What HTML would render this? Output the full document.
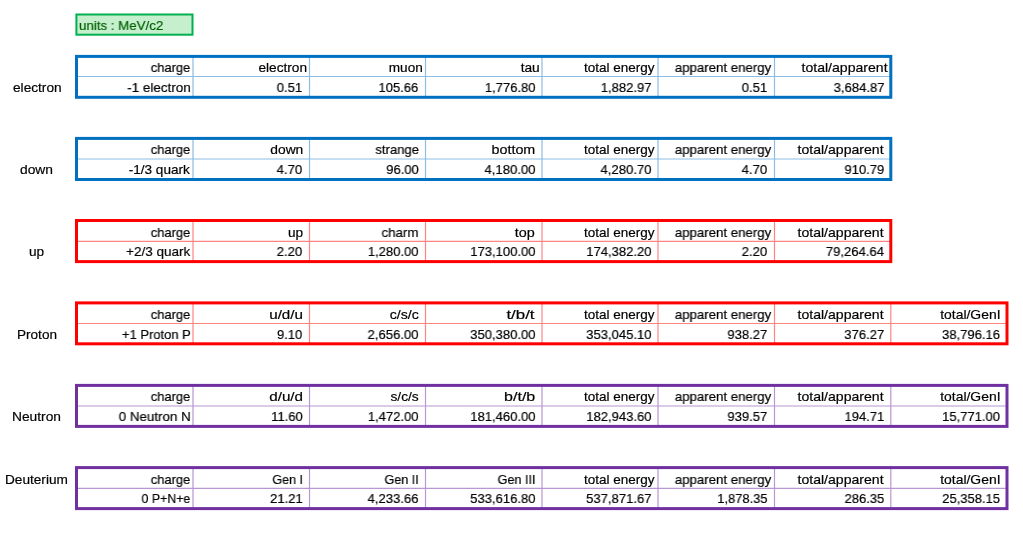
<!DOCTYPE html>
<html><head><meta charset="utf-8"><style>
html,body{margin:0;padding:0;background:#fff;width:1023px;height:534px;overflow:hidden;position:relative}
body{font-family:"Liberation Sans",sans-serif;font-size:13.5px;line-height:16px;color:#000}
svg{position:absolute;left:0;top:0}
.c{position:absolute;white-space:nowrap;transform-origin:right center;will-change:transform;-webkit-text-stroke:0.2px #000}
.l{position:absolute;white-space:nowrap;transform-origin:left center;will-change:transform;-webkit-text-stroke:0.2px currentColor}
</style></head><body>
<svg width="1023" height="534" viewBox="0 0 1023 534">
<line x1="76.5" y1="76.5" x2="890.8" y2="76.5" stroke="#8cbde4" stroke-width="1.2"/>
<line x1="193.0" y1="56.4" x2="193.0" y2="97.3" stroke="#8cbde4" stroke-width="1.2"/>
<line x1="309.5" y1="56.4" x2="309.5" y2="97.3" stroke="#8cbde4" stroke-width="1.2"/>
<line x1="425.5" y1="56.4" x2="425.5" y2="97.3" stroke="#8cbde4" stroke-width="1.2"/>
<line x1="542.0" y1="56.4" x2="542.0" y2="97.3" stroke="#8cbde4" stroke-width="1.2"/>
<line x1="658.0" y1="56.4" x2="658.0" y2="97.3" stroke="#8cbde4" stroke-width="1.2"/>
<line x1="774.5" y1="56.4" x2="774.5" y2="97.3" stroke="#8cbde4" stroke-width="1.2"/>
<rect x="76.5" y="56.4" width="814.30" height="40.90" fill="none" stroke="#0070c0" stroke-width="3"/>
<line x1="76.5" y1="159.0" x2="890.8" y2="159.0" stroke="#8cbde4" stroke-width="1.2"/>
<line x1="193.0" y1="138.4" x2="193.0" y2="179.5" stroke="#8cbde4" stroke-width="1.2"/>
<line x1="309.5" y1="138.4" x2="309.5" y2="179.5" stroke="#8cbde4" stroke-width="1.2"/>
<line x1="425.5" y1="138.4" x2="425.5" y2="179.5" stroke="#8cbde4" stroke-width="1.2"/>
<line x1="542.0" y1="138.4" x2="542.0" y2="179.5" stroke="#8cbde4" stroke-width="1.2"/>
<line x1="658.0" y1="138.4" x2="658.0" y2="179.5" stroke="#8cbde4" stroke-width="1.2"/>
<line x1="774.5" y1="138.4" x2="774.5" y2="179.5" stroke="#8cbde4" stroke-width="1.2"/>
<rect x="76.5" y="138.4" width="814.30" height="41.10" fill="none" stroke="#0070c0" stroke-width="3"/>
<line x1="76.5" y1="241.3" x2="890.8" y2="241.3" stroke="#ff8585" stroke-width="1.2"/>
<line x1="193.0" y1="220.5" x2="193.0" y2="261.6" stroke="#ff8585" stroke-width="1.2"/>
<line x1="309.5" y1="220.5" x2="309.5" y2="261.6" stroke="#ff8585" stroke-width="1.2"/>
<line x1="425.5" y1="220.5" x2="425.5" y2="261.6" stroke="#ff8585" stroke-width="1.2"/>
<line x1="542.0" y1="220.5" x2="542.0" y2="261.6" stroke="#ff8585" stroke-width="1.2"/>
<line x1="658.0" y1="220.5" x2="658.0" y2="261.6" stroke="#ff8585" stroke-width="1.2"/>
<line x1="774.5" y1="220.5" x2="774.5" y2="261.6" stroke="#ff8585" stroke-width="1.2"/>
<rect x="76.5" y="220.5" width="814.30" height="41.10" fill="none" stroke="#ff0000" stroke-width="3"/>
<line x1="76.5" y1="323.5" x2="1007.0" y2="323.5" stroke="#ff8585" stroke-width="1.2"/>
<line x1="193.0" y1="302.9" x2="193.0" y2="343.8" stroke="#ff8585" stroke-width="1.2"/>
<line x1="309.5" y1="302.9" x2="309.5" y2="343.8" stroke="#ff8585" stroke-width="1.2"/>
<line x1="425.5" y1="302.9" x2="425.5" y2="343.8" stroke="#ff8585" stroke-width="1.2"/>
<line x1="542.0" y1="302.9" x2="542.0" y2="343.8" stroke="#ff8585" stroke-width="1.2"/>
<line x1="658.0" y1="302.9" x2="658.0" y2="343.8" stroke="#ff8585" stroke-width="1.2"/>
<line x1="774.5" y1="302.9" x2="774.5" y2="343.8" stroke="#ff8585" stroke-width="1.2"/>
<line x1="890.8" y1="302.9" x2="890.8" y2="343.8" stroke="#ff8585" stroke-width="1.2"/>
<rect x="76.5" y="302.9" width="930.50" height="40.90" fill="none" stroke="#ff0000" stroke-width="3"/>
<line x1="76.5" y1="406.0" x2="1007.0" y2="406.0" stroke="#b996d4" stroke-width="1.2"/>
<line x1="193.0" y1="385.4" x2="193.0" y2="426.4" stroke="#b996d4" stroke-width="1.2"/>
<line x1="309.5" y1="385.4" x2="309.5" y2="426.4" stroke="#b996d4" stroke-width="1.2"/>
<line x1="425.5" y1="385.4" x2="425.5" y2="426.4" stroke="#b996d4" stroke-width="1.2"/>
<line x1="542.0" y1="385.4" x2="542.0" y2="426.4" stroke="#b996d4" stroke-width="1.2"/>
<line x1="658.0" y1="385.4" x2="658.0" y2="426.4" stroke="#b996d4" stroke-width="1.2"/>
<line x1="774.5" y1="385.4" x2="774.5" y2="426.4" stroke="#b996d4" stroke-width="1.2"/>
<line x1="890.8" y1="385.4" x2="890.8" y2="426.4" stroke="#b996d4" stroke-width="1.2"/>
<rect x="76.5" y="385.4" width="930.50" height="41.00" fill="none" stroke="#7030a0" stroke-width="3"/>
<line x1="76.5" y1="488.3" x2="1007.0" y2="488.3" stroke="#b996d4" stroke-width="1.2"/>
<line x1="193.0" y1="467.6" x2="193.0" y2="508.6" stroke="#b996d4" stroke-width="1.2"/>
<line x1="309.5" y1="467.6" x2="309.5" y2="508.6" stroke="#b996d4" stroke-width="1.2"/>
<line x1="425.5" y1="467.6" x2="425.5" y2="508.6" stroke="#b996d4" stroke-width="1.2"/>
<line x1="542.0" y1="467.6" x2="542.0" y2="508.6" stroke="#b996d4" stroke-width="1.2"/>
<line x1="658.0" y1="467.6" x2="658.0" y2="508.6" stroke="#b996d4" stroke-width="1.2"/>
<line x1="774.5" y1="467.6" x2="774.5" y2="508.6" stroke="#b996d4" stroke-width="1.2"/>
<line x1="890.8" y1="467.6" x2="890.8" y2="508.6" stroke="#b996d4" stroke-width="1.2"/>
<rect x="76.5" y="467.6" width="930.50" height="41.00" fill="none" stroke="#7030a0" stroke-width="3"/>
<rect x="76.4" y="14.5" width="116.1" height="20.2" fill="#c6efce" stroke="#00b050" stroke-width="2"/>
</svg>
<div class="c" style="right:832.73px;top:60.0px;transform:scaleX(0.9569)">charge</div>
<div class="c" style="right:715.91px;top:60.0px;transform:scaleX(1.0124)">electron</div>
<div class="c" style="right:599.92px;top:60.0px;transform:scaleX(1.0065)">muon</div>
<div class="c" style="right:483.39px;top:60.0px;transform:scaleX(1.0189)">tau</div>
<div class="c" style="right:368.27px;top:60.0px;transform:scaleX(1.0002)">total energy</div>
<div class="c" style="right:251.77px;top:60.0px;transform:scaleX(0.9818)">apparent energy</div>
<div class="c" style="right:135.40px;top:60.0px;transform:scaleX(1.0420)">total/apparent</div>
<div class="c" style="right:832.43px;top:80.0px;transform:scaleX(0.9962)">-1 electron</div>
<div class="c" style="right:720.26px;top:80.0px;transform:scaleX(0.9736)">0.51</div>
<div class="c" style="right:604.33px;top:80.0px;transform:scaleX(0.9642)">105.66</div>
<div class="c" style="right:487.89px;top:80.0px;transform:scaleX(0.9654)">1,776.80</div>
<div class="c" style="right:371.74px;top:80.0px;transform:scaleX(0.9665)">1,882.97</div>
<div class="c" style="right:255.26px;top:80.0px;transform:scaleX(0.9736)">0.51</div>
<div class="c" style="right:138.94px;top:80.0px;transform:scaleX(0.9680)">3,684.87</div>
<div class="l" style="left:12.64px;top:80.0px;transform:scaleX(1.0124)">electron</div>
<div class="c" style="right:832.73px;top:142.0px;transform:scaleX(0.9569)">charge</div>
<div class="c" style="right:720.00px;top:142.0px;transform:scaleX(1.0221)">down</div>
<div class="c" style="right:604.32px;top:142.0px;transform:scaleX(0.9698)">strange</div>
<div class="c" style="right:487.46px;top:142.0px;transform:scaleX(1.0585)">bottom</div>
<div class="c" style="right:368.27px;top:142.0px;transform:scaleX(1.0002)">total energy</div>
<div class="c" style="right:251.77px;top:142.0px;transform:scaleX(0.9818)">apparent energy</div>
<div class="c" style="right:139.50px;top:142.0px;transform:scaleX(1.0420)">total/apparent</div>
<div class="c" style="right:833.32px;top:162.0px;transform:scaleX(1.0050)">-1/3 quark</div>
<div class="c" style="right:720.39px;top:162.0px;transform:scaleX(0.9759)">4.70</div>
<div class="c" style="right:604.39px;top:162.0px;transform:scaleX(0.9633)">96.00</div>
<div class="c" style="right:487.89px;top:162.0px;transform:scaleX(0.9712)">4,180.00</div>
<div class="c" style="right:371.89px;top:162.0px;transform:scaleX(0.9712)">4,280.70</div>
<div class="c" style="right:255.39px;top:162.0px;transform:scaleX(0.9759)">4.70</div>
<div class="c" style="right:138.98px;top:162.0px;transform:scaleX(0.9640)">910.79</div>
<div class="l" style="left:20.47px;top:162.0px;transform:scaleX(1.0221)">down</div>
<div class="c" style="right:832.73px;top:225.0px;transform:scaleX(0.9569)">charge</div>
<div class="c" style="right:720.33px;top:225.0px;transform:scaleX(1.0082)">up</div>
<div class="c" style="right:604.02px;top:225.0px;transform:scaleX(0.9862)">charm</div>
<div class="c" style="right:487.80px;top:225.0px;transform:scaleX(1.0645)">top</div>
<div class="c" style="right:368.27px;top:225.0px;transform:scaleX(1.0002)">total energy</div>
<div class="c" style="right:251.77px;top:225.0px;transform:scaleX(0.9818)">apparent energy</div>
<div class="c" style="right:139.50px;top:225.0px;transform:scaleX(1.0420)">total/apparent</div>
<div class="c" style="right:833.32px;top:244.0px;transform:scaleX(0.9989)">+2/3 quark</div>
<div class="c" style="right:720.39px;top:244.0px;transform:scaleX(0.9744)">2.20</div>
<div class="c" style="right:604.39px;top:244.0px;transform:scaleX(0.9654)">1,280.00</div>
<div class="c" style="right:487.89px;top:244.0px;transform:scaleX(0.9662)">173,100.00</div>
<div class="c" style="right:371.89px;top:244.0px;transform:scaleX(0.9662)">174,382.20</div>
<div class="c" style="right:255.39px;top:244.0px;transform:scaleX(0.9744)">2.20</div>
<div class="c" style="right:139.22px;top:244.0px;transform:scaleX(0.9698)">79,264.64</div>
<div class="l" style="left:29.07px;top:244.0px;transform:scaleX(1.0082)">up</div>
<div class="c" style="right:832.73px;top:307.0px;transform:scaleX(0.9569)">charge</div>
<div class="c" style="right:719.89px;top:307.0px;transform:scaleX(1.1272)">u/d/u</div>
<div class="c" style="right:604.53px;top:307.0px;transform:scaleX(1.0465)">c/s/c</div>
<div class="c" style="right:488.28px;top:307.0px;transform:scaleX(1.2494)">t/b/t</div>
<div class="c" style="right:368.27px;top:307.0px;transform:scaleX(1.0002)">total energy</div>
<div class="c" style="right:251.77px;top:307.0px;transform:scaleX(0.9818)">apparent energy</div>
<div class="c" style="right:139.50px;top:307.0px;transform:scaleX(1.0420)">total/apparent</div>
<div class="c" style="right:22.12px;top:307.0px;transform:scaleX(1.0306)">total/GenI</div>
<div class="c" style="right:832.62px;top:327.0px;transform:scaleX(0.9594)">+1 Proton P</div>
<div class="c" style="right:720.39px;top:327.0px;transform:scaleX(0.9617)">9.10</div>
<div class="c" style="right:604.39px;top:327.0px;transform:scaleX(0.9704)">2,656.00</div>
<div class="c" style="right:487.89px;top:327.0px;transform:scaleX(0.9673)">350,380.00</div>
<div class="c" style="right:371.89px;top:327.0px;transform:scaleX(0.9673)">353,045.10</div>
<div class="c" style="right:255.24px;top:327.0px;transform:scaleX(0.9657)">938.27</div>
<div class="c" style="right:138.94px;top:327.0px;transform:scaleX(0.9691)">376.27</div>
<div class="c" style="right:22.83px;top:327.0px;transform:scaleX(0.9661)">38,796.16</div>
<div class="l" style="left:16.69px;top:327.0px;transform:scaleX(1.0053)">Proton</div>
<div class="c" style="right:832.73px;top:389.0px;transform:scaleX(0.9569)">charge</div>
<div class="c" style="right:719.92px;top:389.0px;transform:scaleX(1.1255)">d/u/d</div>
<div class="c" style="right:604.40px;top:389.0px;transform:scaleX(1.0192)">s/c/s</div>
<div class="c" style="right:487.73px;top:389.0px;transform:scaleX(1.1857)">b/t/b</div>
<div class="c" style="right:368.27px;top:389.0px;transform:scaleX(1.0002)">total energy</div>
<div class="c" style="right:251.77px;top:389.0px;transform:scaleX(0.9818)">apparent energy</div>
<div class="c" style="right:139.50px;top:389.0px;transform:scaleX(1.0420)">total/apparent</div>
<div class="c" style="right:22.12px;top:389.0px;transform:scaleX(1.0306)">total/GenI</div>
<div class="c" style="right:832.21px;top:409.0px;transform:scaleX(0.9904)">0 Neutron N</div>
<div class="c" style="right:720.39px;top:409.0px;transform:scaleX(0.9651)">11.60</div>
<div class="c" style="right:604.39px;top:409.0px;transform:scaleX(0.9654)">1,472.00</div>
<div class="c" style="right:487.89px;top:409.0px;transform:scaleX(0.9662)">181,460.00</div>
<div class="c" style="right:371.89px;top:409.0px;transform:scaleX(0.9662)">182,943.60</div>
<div class="c" style="right:255.24px;top:409.0px;transform:scaleX(0.9657)">939.57</div>
<div class="c" style="right:138.97px;top:409.0px;transform:scaleX(0.9621)">194.71</div>
<div class="c" style="right:22.89px;top:409.0px;transform:scaleX(0.9658)">15,771.00</div>
<div class="l" style="left:12.20px;top:409.0px;transform:scaleX(1.0196)">Neutron</div>
<div class="c" style="right:832.73px;top:472.0px;transform:scaleX(0.9569)">charge</div>
<div class="c" style="right:719.74px;top:472.0px;transform:scaleX(0.9289)">Gen I</div>
<div class="c" style="right:603.74px;top:472.0px;transform:scaleX(0.9327)">Gen II</div>
<div class="c" style="right:487.23px;top:472.0px;transform:scaleX(0.9357)">Gen III</div>
<div class="c" style="right:368.27px;top:472.0px;transform:scaleX(1.0002)">total energy</div>
<div class="c" style="right:251.77px;top:472.0px;transform:scaleX(0.9818)">apparent energy</div>
<div class="c" style="right:139.50px;top:472.0px;transform:scaleX(1.0420)">total/apparent</div>
<div class="c" style="right:22.12px;top:472.0px;transform:scaleX(1.0306)">total/GenI</div>
<div class="c" style="right:832.75px;top:491.0px;transform:scaleX(0.9152)">0 P+N+e</div>
<div class="c" style="right:720.26px;top:491.0px;transform:scaleX(0.9686)">21.21</div>
<div class="c" style="right:604.32px;top:491.0px;transform:scaleX(0.9700)">4,233.66</div>
<div class="c" style="right:487.89px;top:491.0px;transform:scaleX(0.9679)">533,616.80</div>
<div class="c" style="right:371.74px;top:491.0px;transform:scaleX(0.9688)">537,871.67</div>
<div class="c" style="right:255.36px;top:491.0px;transform:scaleX(0.9568)">1,878.35</div>
<div class="c" style="right:139.06px;top:491.0px;transform:scaleX(0.9613)">286.35</div>
<div class="c" style="right:22.85px;top:491.0px;transform:scaleX(0.9628)">25,358.15</div>
<div class="l" style="left:5.25px;top:472.0px;transform:scaleX(1.0097)">Deuterium</div>
<div class="l" style="left:79.24px;top:17.90px;transform:scaleX(0.9860);color:#006100">units : MeV/c2</div>
</body></html>
